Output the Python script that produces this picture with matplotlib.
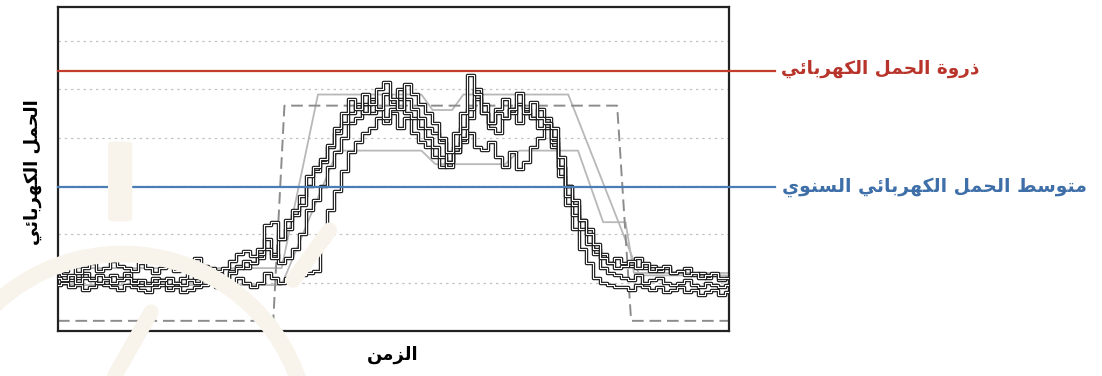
import numpy as np
import matplotlib
matplotlib.use("Agg")
import matplotlib.pyplot as plt
import matplotlib.patheffects as pe
from matplotlib.patches import FancyBboxPatch, Arc

# ---- data (hours 0..24, load in grid units) ----
hours = np.arange(0, 24.25, 0.25)

load_a = [1.30, 1.25, 1.35, 1.20, 1.30, 1.40, 1.25, 1.30, 1.45, 1.35, 1.30, 1.25, 1.40,
          1.30, 1.20, 1.30, 1.35, 1.25, 1.30, 1.40, 1.50, 1.35, 1.30, 1.25, 1.30,
          1.45, 1.60, 1.65, 1.55, 1.70, 2.20, 2.25, 1.90, 2.30, 2.50, 2.60, 3.20,
          3.40, 3.55, 3.85, 4.20, 4.50, 4.80,
          4.60, 4.90, 4.70, 5.00, 5.15, 4.80, 4.60, 5.10, 4.90, 4.70, 4.50, 4.30, 4.00,
          3.70, 4.10, 4.50, 5.30, 4.90, 4.50, 4.30, 4.50, 4.40, 4.60, 4.93, 4.50, 4.74,
          4.40, 4.30,
          4.20, 3.60, 3.00, 2.70, 2.30, 2.00, 1.80, 1.50, 1.40, 1.30,
          1.35, 1.45, 1.30, 1.40, 1.25, 1.30, 1.35, 1.20, 1.25, 1.15, 1.20, 1.10,
          1.15, 1.20, 1.10, 1.10]

load_b = [0.95, 1.00, 0.90, 0.95, 0.85, 0.90, 1.00, 0.95, 0.90, 0.85, 0.95, 0.90, 0.85,
          0.80, 0.90, 0.95, 0.85, 0.90, 0.80, 0.85, 0.90, 0.95, 1.00, 0.90, 0.85,
          0.95, 1.10, 1.00, 0.90, 1.00, 1.20, 1.10, 1.00, 1.10, 1.20, 1.15, 1.20,
          1.25, 1.85, 2.50, 2.90, 3.30, 3.70,
          3.90, 4.10, 4.20, 4.40, 4.30, 4.50, 4.20, 4.40, 4.10, 3.90, 3.80, 3.60, 3.40,
          3.50, 3.70, 3.90, 4.10, 3.80, 3.75, 3.90, 3.60, 3.40, 3.70, 3.35, 3.50, 3.80,
          4.00, 4.20,
          3.80, 3.20, 2.60, 2.10, 1.70, 1.40, 1.10, 1.00, 0.95, 0.90,
          0.90, 0.85, 0.95, 0.90, 0.85, 0.90, 0.80, 0.85, 0.90, 0.80, 0.85, 0.75,
          0.80, 0.85, 0.75, 0.80]

load_c = [1.10, 1.05, 1.15, 1.00, 1.10, 1.05, 1.15, 1.10, 1.00, 1.05, 1.10, 1.00, 1.05,
          0.95, 1.00, 1.05, 1.10, 1.00, 0.95, 1.05, 1.00, 1.10, 1.05, 1.15, 1.10,
          1.20, 1.30, 1.45, 1.40, 1.60, 1.70, 1.50, 1.90, 2.10, 2.40, 2.80, 3.00,
          3.30, 3.50, 3.80, 4.10, 4.30, 4.50,
          4.70, 4.50, 4.80, 4.60, 4.90, 4.70, 5.00, 4.80, 4.60, 4.40, 4.20, 4.10, 3.90,
          3.50, 3.80, 4.20, 4.60, 5.00, 4.70, 4.30, 4.60, 4.80, 4.50, 4.70, 4.60, 4.40,
          4.60, 4.40,
          4.00, 3.40, 3.00, 2.60, 2.30, 2.10, 1.70, 1.60, 1.40, 1.50,
          1.40, 1.35, 1.50, 1.30, 1.35, 1.25, 1.30, 1.20, 1.25, 1.30, 1.15, 1.20,
          1.10, 1.15, 1.05, 1.10]

load_d = [1.20, 1.15, 1.05, 1.10, 1.20, 1.10, 1.00, 1.05, 1.15, 1.10, 1.20, 1.05, 0.95,
          1.00, 1.10, 1.05, 0.95, 1.00, 1.10, 1.20, 1.10, 1.05, 1.15, 1.20, 1.10,
          1.25, 1.35, 1.30, 1.40, 1.50, 1.90, 1.60, 1.40, 1.50, 1.70, 2.00, 2.50,
          2.70, 3.00, 3.40, 3.70, 4.00, 4.30,
          4.40, 4.70, 4.50, 4.60, 4.40, 4.60, 4.80, 4.50, 4.40, 4.20, 4.00, 3.80, 3.60,
          3.40, 3.70, 4.00, 4.40, 4.80, 4.50, 4.20, 4.10, 4.40, 4.60, 4.30, 4.50, 4.40,
          4.20, 4.30,
          3.90, 3.40, 2.80, 2.40, 2.10, 1.80, 1.60, 1.30, 1.20, 1.15,
          1.10, 1.05, 1.15, 1.00, 1.05, 1.10, 1.00, 0.95, 1.00, 1.05, 0.95, 0.90,
          1.00, 0.95, 0.90, 0.95]

# smoothed profiles (light grey)
smooth1_x = [0, 8.0, 9.3, 13.0, 13.4, 14.1, 14.5, 18.25, 20.8, 24]
smooth1_y = [1.30, 1.30, 4.89, 4.89, 4.57, 4.57, 4.89, 4.89, 1.15, 1.15]
smooth2_x = [0, 8.0, 10.0, 13.0, 13.5, 16.0, 16.5, 18.6, 19.5, 20.3, 20.6, 24]
smooth2_y = [0.95, 0.95, 3.73, 3.73, 3.45, 3.45, 3.73, 3.73, 2.25, 2.25, 1.20, 1.20]

# flat day/night profile (dashed)
flat_x = [0, 7.7, 8.1, 20.0, 20.5, 24]
flat_y = [0.21, 0.21, 4.66, 4.66, 0.21, 0.21]

peak_load = 5.38
mean_load = 2.98

label_peak = "ذروة الحمل الكهربائي"
label_mean = "متوسط الحمل الكهربائي السنوي"
label_y = "الحمل الكهربائي"
label_x = "الزمن"


# ---- minimal arabic shaping (presentation forms) ----
FORMS = {  # iso, fin, ini, med
    "ا": ("\uFE8D", "\uFE8E", None, None),
    "ب": ("\uFE8F", "\uFE90", "\uFE91", "\uFE92"),
    "ت": ("\uFE95", "\uFE96", "\uFE97", "\uFE98"),
    "ة": ("\uFE93", "\uFE94", None, None),
    "ح": ("\uFEA1", "\uFEA2", "\uFEA3", "\uFEA4"),
    "ذ": ("\uFEAB", "\uFEAC", None, None),
    "ر": ("\uFEAD", "\uFEAE", None, None),
    "ز": ("\uFEAF", "\uFEB0", None, None),
    "س": ("\uFEB1", "\uFEB2", "\uFEB3", "\uFEB4"),
    "ط": ("\uFEC1", "\uFEC2", "\uFEC3", "\uFEC4"),
    "ك": ("\uFED9", "\uFEDA", "\uFEDB", "\uFEDC"),
    "ل": ("\uFEDD", "\uFEDE", "\uFEDF", "\uFEE0"),
    "م": ("\uFEE1", "\uFEE2", "\uFEE3", "\uFEE4"),
    "ن": ("\uFEE5", "\uFEE6", "\uFEE7", "\uFEE8"),
    "ه": ("\uFEE9", "\uFEEA", "\uFEEB", "\uFEEC"),
    "و": ("\uFEED", "\uFEEE", None, None),
    "ي": ("\uFEF1", "\uFEF2", "\uFEF3", "\uFEF4"),
    "ئ": ("\uFE89", "\uFE8A", "\uFE8B", "\uFE8C"),
}


def shape(text):
    out = []
    for i, ch in enumerate(text):
        if ch not in FORMS:
            out.append(ch)
            continue
        prev = text[i - 1] if i > 0 else ""
        nxt = text[i + 1] if i + 1 < len(text) else ""
        dual = FORMS[ch][2] is not None
        jp = prev in FORMS and FORMS[prev][2] is not None
        jn = dual and nxt in FORMS
        if jp and jn:
            out.append(FORMS[ch][3])
        elif jp:
            out.append(FORMS[ch][1])
        elif jn:
            out.append(FORMS[ch][2])
        else:
            out.append(FORMS[ch][0])
    return "".join(out)[::-1]


plt.rcParams["font.family"] = ["DejaVu Sans"]

fig = plt.figure(figsize=(11.02, 3.76), dpi=100)
fig.patch.set_facecolor("white")

# faint watermark behind the chart
wm = "#f8f4ec"
fig.patches.append(FancyBboxPatch((0.102, 0.415), 0.014, 0.205,
                                  boxstyle="round,pad=0.004,rounding_size=0.007",
                                  transform=fig.transFigure, fc=wm, ec="none", zorder=0))
fig.patches.append(Arc((0.111, -0.170), 0.3376, 0.989, theta1=18, theta2=140,
                       transform=fig.transFigure, color=wm, lw=12, zorder=0))
fig.lines.append(plt.Line2D([0.104, 0.137], [0.0, 0.17], transform=fig.transFigure,
                            color=wm, lw=11, solid_capstyle="round", zorder=0))
fig.lines.append(plt.Line2D([0.266, 0.299], [0.255, 0.388], transform=fig.transFigure,
                            color=wm, lw=11, solid_capstyle="round", zorder=0))

ax = fig.add_axes([0.0526, 0.1197, 0.6089, 0.8617])
ax.set_facecolor("none")
ax.set_xlim(0, 24)
ax.set_ylim(0, 6.7)
ax.set_xticks([])
ax.set_yticks([])
for s in ax.spines.values():
    s.set_linewidth(1.6)
    s.set_color("#222222")

for g in [1, 2, 3, 4, 5, 6]:
    ax.axhline(g, color="#c4c4c4", lw=0.9, dashes=(2, 3), zorder=1)

ax.plot(smooth1_x, smooth1_y, color="#b8b8b8", lw=1.3, zorder=2)
ax.plot(smooth2_x, smooth2_y, color="#b8b8b8", lw=1.3, zorder=2)
ax.plot(flat_x, flat_y, color="#8c8c8c", lw=1.4, dashes=(6, 3), zorder=2)

outline = [pe.Stroke(linewidth=2.5, foreground="#1c1c1c"), pe.Normal()]
for series in [load_b, load_d, load_c, load_a]:
    ax.plot(hours, series, drawstyle="steps-mid", color="white", lw=0.8,
            path_effects=outline, zorder=3)

ax.plot([0, 25.65], [peak_load, peak_load], color="#c43c2c", lw=1.6, clip_on=False, zorder=5)
ax.plot([0, 25.65], [mean_load, mean_load], color="#4a7cb6", lw=1.6, clip_on=False, zorder=5)

fig.text(0.709, 0.818, shape(label_peak), color="#b8332a", fontsize=13.3, fontweight="bold",
         ha="left", va="center")
fig.text(0.710, 0.502, shape(label_mean), color="#3f6fa8", fontsize=13.5, fontweight="bold",
         ha="left", va="center")
fig.text(0.030, 0.543, shape(label_y), color="black", fontsize=13, fontweight="bold",
         ha="center", va="center", rotation=90)
fig.text(0.356, 0.056, shape(label_x), color="black", fontsize=13, fontweight="bold",
         ha="center", va="center")

fig.savefig("out.png", dpi=100, facecolor="white")
